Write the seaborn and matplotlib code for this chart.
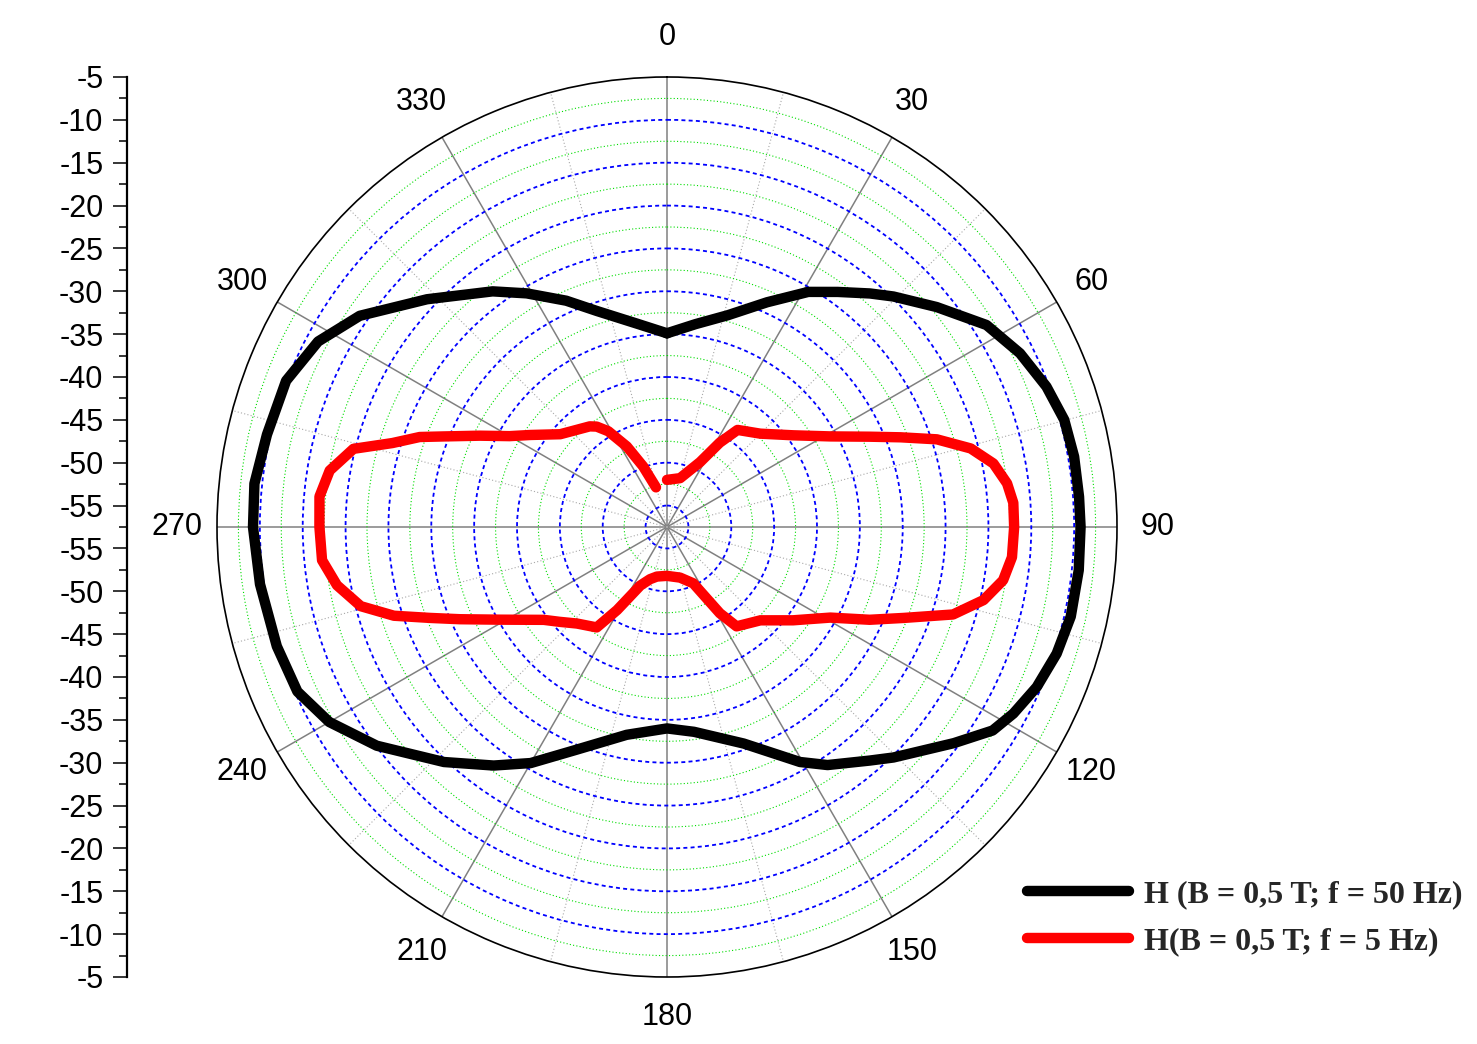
import numpy as np
import pandas as pd
import matplotlib
matplotlib.use('Agg')
import matplotlib.pyplot as plt
import seaborn as sns
from matplotlib.lines import Line2D

# Angulos en grados (0 arriba, sentido horario) y valores del eje radial
ang_50hz = [0, 8, 16, 24, 31, 36, 41, 44.5, 50.8, 57.7, 63.8, 69.7, 74.9, 80.2, 85.8, 90,
            96, 102.5, 108, 113.4, 118.3, 122, 127, 135.5, 139, 146, 150.5, 160.5, 172.5,
            180, 191, 202, 210, 216, 223.5, 233, 240, 246, 253, 262, 270, 276, 283, 291,
            298, 304.5, 313.5, 323.5, 329, 336, 342, 352, 360]
val_50hz = [-34.9, -33.6, -31.8, -28.8, -25.5, -23.6, -21.4, -19.8, -16.9, -13.4, -11.6,
            -10.3, -9.5, -9.3, -9.3, -9.25, -9.2, -9.25, -9.7, -10.5, -11.6, -12.7, -15.6,
            -19.8, -21.4, -24.0, -26.0, -30.7, -33.4, -34.0, -32.8, -29.5, -25.7, -23.1,
            -19.7, -15.1, -12.0, -10.3, -9.9, -9.55, -9.2, -9.1, -9.6, -9.9, -11.4, -14.0,
            -18.9, -23.3, -25.7, -28.6, -31.0, -33.6, -34.9]

ang_5hz = [0, 15, 27, 32, 36, 45, 54, 61, 66, 69, 72, 75.5, 79, 82.7, 86, 90, 95, 99, 103,
           107, 111, 114.6, 119, 126.5, 135, 145, 148.5, 155, 165.5, 180, 191.5, 198, 204.5,
           211, 215, 223, 228.5, 233, 241, 246, 249, 252, 255.5, 260, 264.5, 270, 275,
           279.5, 284, 287, 290, 292, 296, 300, 304, 311, 322.5, 325, 328.5, 333.5, 338.5,
           344.5]
val_5hz = [-52.0, -51.6, -49.0, -45.9, -43.5, -42.1, -39.3, -35.7, -31.6, -28.3, -24.4,
           -20.9, -18.7, -17.5, -17.0, -17.0, -17.1, -17.8, -19.6, -22.6, -27.9, -31.5,
           -35.7, -39.2, -42.1, -43.35, -45.7, -50.25, -51.4, -51.8, -51.6, -51.1, -50.0,
           -46.2, -43.2, -42.1, -40.8, -39.5, -35.2, -31.05, -27.9, -24.0, -20.6, -18.4,
           -17.07, -16.95, -16.8, -17.6, -19.8, -24.0, -26.8, -29.3, -33.2, -36.3, -38.3,
           -41.0, -42.7, -43.2, -44.4, -47.0, -49.9, -52.7]

theta_ticks = [0, 30, 60, 90, 120, 150, 180, 210, 240, 270, 300, 330]
r_ticks = [-5, -10, -15, -20, -25, -30, -35, -40, -45, -50, -55]
etiquetas = ['H (B = 0,5 T; f = 50 Hz)', 'H(B = 0,5 T; f = 5 Hz)']

R_MIN, R_MAX = -57.5, -5

sns.set_theme(style='white')
plt.rcParams['font.family'] = ['Liberation Sans', 'DejaVu Sans']
plt.rcParams['lines.solid_joinstyle'] = 'round'

W, H = 1477, 1044
fig = plt.figure(figsize=(W / 100, H / 100), dpi=100)

# Grafico polar principal
ax = fig.add_axes([217 / W, 67 / H, 900 / W, 900 / H], projection='polar')
ax.set_theta_zero_location('N')
ax.set_theta_direction(-1)

df50 = pd.DataFrame({'theta': np.deg2rad(ang_50hz), 'r': val_50hz})
df5 = pd.DataFrame({'theta': np.deg2rad(ang_5hz), 'r': val_5hz})
sns.lineplot(data=df50, x='theta', y='r', ax=ax, sort=False, estimator=None,
             color='black', lw=7.5, legend=False, zorder=5)
sns.lineplot(data=df5, x='theta', y='r', ax=ax, sort=False, estimator=None,
             color='#ff0000', lw=7.5, legend=False, zorder=5, solid_capstyle='round')
ax.set_ylim(R_MIN, R_MAX)
ax.set_xlabel('')
ax.set_ylabel('')

# Rejilla radial (circulos)
ax.set_yticks([v for v in r_ticks if R_MIN < v < R_MAX])
ax.set_yticks([v - 2.5 for v in r_ticks if R_MIN < v - 2.5 < R_MAX], minor=True)
ax.set_yticklabels([])
ax.tick_params(axis='y', which='both', length=0)
ax.yaxis.grid(True, which='major', color='#0000ff', lw=1.3, ls=(0, (2.2, 1.8)))
ax.yaxis.grid(True, which='minor', color='#00dd00', lw=0.8, ls=(0, (1, 2)))

# Rejilla angular
ax.set_xticks(np.deg2rad(theta_ticks))
ax.set_xticklabels([str(t) for t in theta_ticks], fontsize=22, color='black')
ax.set_xticks(np.deg2rad([t + 15 for t in theta_ticks]), minor=True)
ax.xaxis.grid(True, which='major', color='#808080', lw=1.1, ls='-')
ax.xaxis.grid(True, which='minor', color='#a8a8a8', lw=0.8, ls=(0, (1, 2)))
ax.tick_params(axis='x', which='major', direction='in', length=10, width=1.2,
               color='black', pad=22)
ax.tick_params(axis='x', which='minor', direction='in', length=6, width=1.0,
               color='black')
ax.spines['polar'].set_color('black')
ax.spines['polar'].set_linewidth(1.2)
ax.set_facecolor('white')

# Eje vertical de la izquierda (escala radial reflejada)
axl = fig.add_axes([127 / W, 67 / H, 1 / W, 900 / H])
axl.set_ylim(-(R_MAX - R_MIN), R_MAX - R_MIN)
pos = [v - R_MIN for v in r_ticks] + [-(v - R_MIN) for v in r_ticks]
axl.set_yticks(pos)
axl.set_yticklabels([str(v) for v in r_ticks] * 2)
pos_min = [v - 2.5 - R_MIN for v in r_ticks] + [-(v - 2.5 - R_MIN) for v in r_ticks]
axl.set_yticks(sorted(set(pos_min)), minor=True)
axl.set_xticks([])
for s in ['top', 'right', 'bottom']:
    axl.spines[s].set_visible(False)
axl.spines['left'].set_color('black')
axl.spines['left'].set_linewidth(1.6)
axl.tick_params(axis='y', which='major', direction='out', length=10, width=1.1,
                labelsize=22, pad=7, color='black', labelcolor='black', left=True)
axl.tick_params(axis='y', which='minor', direction='out', length=6, width=1.1,
                color='black', left=True)
axl.patch.set_alpha(0)

# Leyenda
handles = [Line2D([0], [0], color='black', lw=7.5, solid_capstyle='round'),
           Line2D([0], [0], color='#ff0000', lw=7.5, solid_capstyle='round')]
fig.legend(handles, etiquetas, loc='center left', bbox_to_anchor=(1027 / W, 1 - 918 / H),
           frameon=False, prop={'family': 'Liberation Serif', 'weight': 'bold', 'size': 23},
           handlelength=3.2, handletextpad=0.45, labelspacing=0.57, borderpad=0,
           borderaxespad=0)

fig.savefig('out.png', dpi=100)
